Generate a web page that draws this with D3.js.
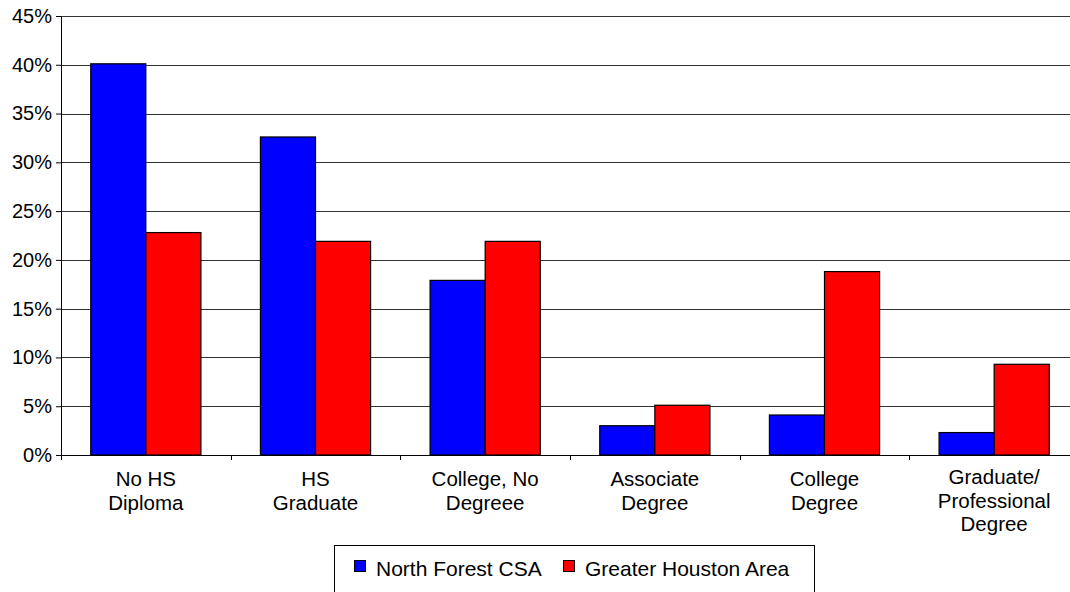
<!DOCTYPE html>
<html>
<head>
<meta charset="utf-8">
<script src="https://cdn.jsdelivr.net/npm/d3@7/dist/d3.min.js"></script>
<style>
  html, body { margin: 0; padding: 0; background: #fff; }
  svg { display: block; }
  text { font-family: "Liberation Sans", Arial, sans-serif; fill: #000; }
</style>
</head>
<body>
<svg id="chart" width="1070" height="592"></svg>
<script>
const categories = [
  ["No HS", "Diploma"],
  ["HS", "Graduate"],
  ["College, No", "Degreee"],
  ["Associate", "Degree"],
  ["College", "Degree"],
  ["Graduate/", "Professional", "Degree"]
];
const categoryKeys = categories.map(c => c.join(" "));
const seriesNames = ["North Forest CSA", "Greater Houston Area"];
const northForest = [0.401, 0.326, 0.179, 0.030, 0.041, 0.023];
const greaterHouston = [0.228, 0.219, 0.219, 0.051, 0.188, 0.093];
const seriesValues = [northForest, greaterHouston];
const seriesColors = ["#0000FF", "#FF0000"];
const yTicks = [0, 0.05, 0.10, 0.15, 0.20, 0.25, 0.30, 0.35, 0.40, 0.45];

const svg = d3.select("#chart");
const plotLeft = 61, plotRight = 1079, plotTop = 16, plotBottom = 455;

const x0 = d3.scaleBand().domain(categoryKeys).range([plotLeft, plotRight]).padding(0);
const x1 = d3.scaleBand().domain(seriesNames).range([0, x0.bandwidth()])
  .paddingInner(0).paddingOuter(0.54);
const y = d3.scaleLinear().domain([0, 0.45]).range([plotBottom, plotTop]);

// gridlines
svg.append("g").selectAll("line").data(yTicks.slice(1)).join("line")
  .attr("x1", plotLeft).attr("x2", plotRight)
  .attr("y1", d => Math.round(y(d)) + 0.5).attr("y2", d => Math.round(y(d)) + 0.5)
  .attr("stroke", "#333").attr("stroke-width", 1);

// bars
const groups = svg.append("g").selectAll("g").data(categoryKeys).join("g")
  .attr("transform", d => `translate(${x0(d)},0)`);
groups.selectAll("rect")
  .data((d, i) => seriesNames.map((s, j) => ({ s, v: seriesValues[j][i], j })))
  .join("rect")
  .attr("x", d => x1(d.s))
  .attr("y", d => y(d.v))
  .attr("width", x1.bandwidth())
  .attr("height", d => plotBottom - y(d.v))
  .attr("fill", d => seriesColors[d.j])
  .attr("stroke", "#000").attr("stroke-width", 1.2);

// y axis
const yAxis = d3.axisLeft(y).tickValues(yTicks).tickFormat(d3.format(".0%"))
  .tickSize(5).tickPadding(4);
const gy = svg.append("g").attr("transform", `translate(${plotLeft},0)`).call(yAxis);
gy.select(".domain").attr("stroke", "#000");
gy.selectAll(".tick line").attr("stroke", "#000");
gy.selectAll(".tick text").attr("font-size", 20).style("font-family", "'Liberation Sans', Arial, sans-serif").attr("fill", "#000");

// x axis line + boundary ticks
svg.append("line").attr("x1", plotLeft).attr("x2", plotRight)
  .attr("y1", plotBottom + 0.5).attr("y2", plotBottom + 0.5).attr("stroke", "#000");
const bounds = categoryKeys.map(k => x0(k)).concat([plotRight]);
svg.append("g").selectAll("line").data(bounds).join("line")
  .attr("x1", d => Math.round(d) + 0.5).attr("x2", d => Math.round(d) + 0.5)
  .attr("y1", plotBottom).attr("y2", plotBottom + 5).attr("stroke", "#000");

// x labels
const lbl = svg.append("g").selectAll("text").data(categories).join("text")
  .attr("text-anchor", "middle").attr("font-size", 20.5)
  .attr("x", (d, i) => x0(categoryKeys[i]) + x0.bandwidth() / 2)
  .attr("y", d => d.length > 2 ? 484 : 486);
lbl.selectAll("tspan").data(d => d).join("tspan")
  .attr("x", function () { return d3.select(this.parentNode).attr("x"); })
  .attr("dy", (d, i) => i === 0 ? 0 : 23.5)
  .text(d => d);

// legend
const lg = svg.append("g");
lg.append("rect").attr("x", 334.5).attr("y", 545.5).attr("width", 480).attr("height", 60)
  .attr("fill", "#fff").attr("stroke", "#000");
const legendX = [354, 563];
const textX = [376, 585];
seriesNames.forEach((s, i) => {
  lg.append("rect").attr("x", legendX[i] + 0.5).attr("y", 560.5).attr("width", 11).attr("height", 11)
    .attr("fill", seriesColors[i]).attr("stroke", "#000");
  lg.append("text").attr("x", textX[i]).attr("y", 576).attr("font-size", 21).text(s);
});
</script>
</body>
</html>
